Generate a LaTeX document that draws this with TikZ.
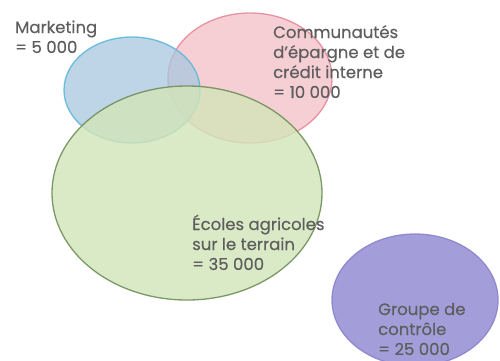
\documentclass[tikz,border=0pt]{standalone}
\usepackage{fontspec}
\setmainfont{Poppins}[FakeBold=0.3]
\definecolor{txt}{HTML}{5E5E5E}
\definecolor{bluef}{HTML}{A9C6E0}
\definecolor{blued}{HTML}{5DB8DA}
\definecolor{pinkf}{HTML}{F3BFC6}
\definecolor{pinkd}{HTML}{E58A9A}
\definecolor{greenf}{HTML}{D3E5B8}
\definecolor{greend}{HTML}{6F8F5A}
\definecolor{purpf}{HTML}{A39DD9}
\definecolor{purpd}{HTML}{8C84CC}
\tikzset{
  set/.style={line width=1.3pt, fill opacity=0.75, draw opacity=0.9},
  lab/.style={anchor=base west, inner sep=0pt, align=left, text=txt,
    font=\fontsize{16.5}{20}\selectfont},
}
\begin{document}
\begin{tikzpicture}[x=1pt,y=-1pt]
\useasboundingbox (0,0) rectangle (500,360);
\fill[white] (0,0) rectangle (500,360);
\begin{scope}
\clip (0,0) rectangle (500,360);
\draw[set, fill=pinkf, draw=pinkd] (250,78) ellipse [x radius=82, y radius=65];
\draw[set, fill=bluef, draw=blued] (132,90) ellipse [x radius=68, y radius=53];
\draw[set, fill=greenf, draw=greend, fill opacity=0.8] (187,193) ellipse [x radius=135, y radius=107];
\draw[set, fill=purpf, draw=purpd, fill opacity=1] (415,300) ellipse [x radius=83, y radius=66];
\end{scope}
\node[lab] (mkt) at (15,53) {Marketing\\= 5 000};
\node[lab] (com) at (273,98) {Communautés\\d'épargne et de\\crédit interne\\= 10 000};
\node[lab] (eco) at (192,270) {Écoles agricoles\\sur le terrain\\= 35 000};
\node[lab] (grp) at (378,355) {Groupe de\\contrôle\\= 25 000};
\end{tikzpicture}
\end{document}
